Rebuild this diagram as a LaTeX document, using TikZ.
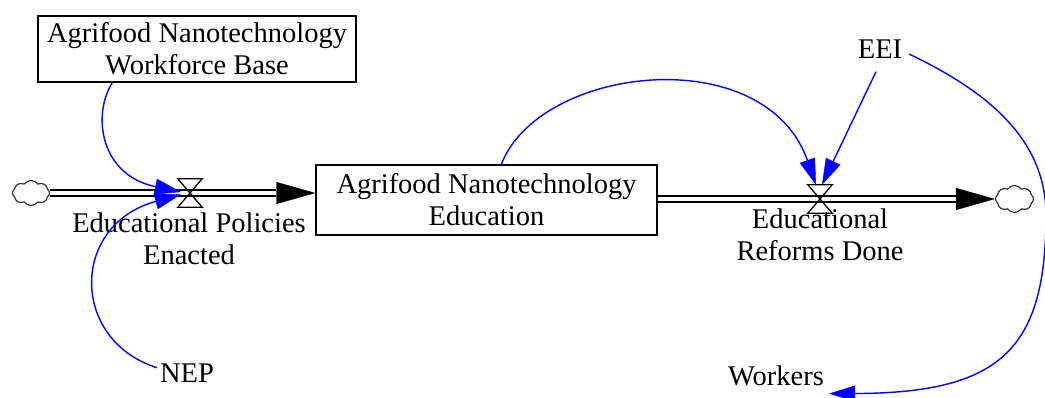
\documentclass[tikz,border=0pt]{standalone}
\usepackage{fontspec}
\setmainfont{Liberation Serif}
\usetikzlibrary{arrows.meta,shapes.symbols}
\definecolor{linkblue}{RGB}{0,0,255}
\begin{document}
\begin{tikzpicture}[x=1pt,y=-1pt,
  every node/.style={font=\fontsize{28.5}{32}\selectfont},
  stockbox/.style={draw, line width=1.4pt, align=center, inner sep=0pt},
  valvebox/.style={minimum width=24pt, minimum height=28pt, inner sep=0pt},
  sourcecloud/.style={cloud, cloud puffs=8, cloud puff arc=110, cloud ignores aspect,
    draw=black!80, line width=1.2pt, minimum width=37pt, minimum height=25pt, inner sep=0pt},
  flowlabel/.style={align=center, inner sep=0pt, anchor=north},
  pipe/.style={line width=7.6pt, black},
  pipegap/.style={line width=3.6pt, white},
  flowtip/.style={-{Triangle[length=39pt,width=22pt,line width=0.4pt]}},
  valveshape/.style={line width=1.3pt},
  link/.style={linkblue, line width=1.4pt, -{Triangle[length=26pt,width=16pt,line width=0.4pt]}},
]
\useasboundingbox (0,0) rectangle (1045,398);

% stocks
\node[stockbox, minimum width=318pt, minimum height=66pt] (wf) at (197,49)
  {Agrifood Nanotechnology\\Workforce Base};
\node[stockbox, minimum width=341pt, minimum height=70pt] (stock) at (486.5,200)
  {Agrifood Nanotechnology\\Education};

% sources and sinks
\node[sourcecloud] (cloudL) at (31,193) {};
\node[sourcecloud, minimum width=38pt, minimum height=27pt] (cloudR) at (1014.5,199) {};

% valves
\node[valvebox] (v1) at (190,193) {};
\node[valvebox] (v2) at (820,199) {};

% flow labels and auxiliaries
\node[flowlabel] (lab1) at (189,213) {Educational Policies\\Enacted};
\node[flowlabel] (lab2) at (820,209) {Educational\\Reforms Done};
\node[inner xsep=7pt, inner ysep=13pt, anchor=base] (eei) at (880,58.5) {EEI};
\node[inner sep=3pt, anchor=base] (nep) at (187,382) {NEP};
\node[inner sep=5pt, anchor=base] (workers) at (776,385) {Workers};

% inflow pipe
\draw[pipe, flowtip] (cloudL.east) -- (cloudL.east -| stock.west);
\draw[pipegap, shorten >=39pt] (cloudL.east) -- (cloudL.east -| stock.west);
% outflow pipe
\draw[pipe, flowtip] (stock.east |- cloudR.west) -- (cloudR.west);
\draw[pipegap, shorten >=39pt] (stock.east |- cloudR.west) -- (cloudR.west);

% valve glyphs
\draw[valveshape] (v1.north west) -- (v1.north east) -- (v1.south west) -- (v1.south east) -- cycle;
\draw[valveshape] (v2.north west) -- (v2.north east) -- (v2.south west) -- (v2.south east) -- cycle;

% causal links
\draw[link] ([xshift=75pt]wf.south west) .. controls (92,115) and (100,175) .. ([xshift=3pt,yshift=1pt]v1.west);
\draw[link] ([yshift=5pt]nep.west) .. controls (70,340) and (70,225) .. ([xshift=3pt,yshift=-1.5pt]v1.west);
\draw[link] ([xshift=186pt]stock.north west) .. controls (540,65) and (765,40) .. ([xshift=-4pt]v2.north);
\draw[link] ([xshift=-4pt]eei.south) -- ([xshift=2pt]v2.north);
\coordinate (loopR) at (1046,215);
\draw[link] ([yshift=-5pt]eei.east) .. controls (980,88) and (1046,135) .. (loopR)
  .. controls (1046,350) and (1000,393) .. ([yshift=-3pt]workers.south east);
\end{tikzpicture}
\end{document}
